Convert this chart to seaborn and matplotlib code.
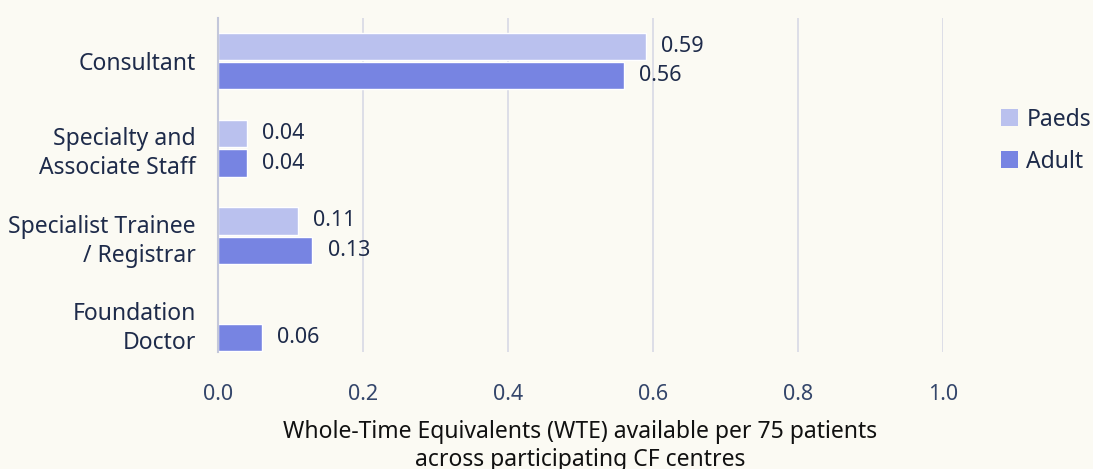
import matplotlib
matplotlib.use("Agg")
import matplotlib.pyplot as plt
import seaborn as sns
import pandas as pd
import numpy as np
from matplotlib.patches import Patch

roles = ["Consultant", "Specialty and\nAssociate Staff", "Specialist Trainee\n/ Registrar", "Foundation\nDoctor"]
paeds = [0.59, 0.04, 0.11, np.nan]
adult = [0.56, 0.04, 0.13, 0.06]
groups = ["Paeds", "Adult"]
colors = ["#BAC1EE", "#7784E2"]

BG = "#FBFAF3"
NAVY = "#1E2B4A"
TICK = "#34466B"
GRID = "#DADCE6"

df = pd.DataFrame({
    "role": roles * 2,
    "group": [groups[0]] * len(roles) + [groups[1]] * len(roles),
    "wte": paeds + adult,
})

sns.set_theme(style="white")
plt.rcParams["font.family"] = ["Noto Sans", "DejaVu Sans"]

fig = plt.figure(figsize=(10.93, 4.69), dpi=100, facecolor=BG)
ax = fig.add_axes([0.1995, 0.2495, 0.6633, 0.7121])
ax.set_facecolor(BG)

sns.barplot(data=df, y="role", x="wte", hue="group", hue_order=groups,
            palette=colors, orient="h", width=0.674, gap=0.08,
            order=roles, ax=ax, legend=False, saturation=1, errorbar=None)

ax.set_xlim(0, 1.0)
ax.set_ylim(3.33, -0.49)
ax.set_xticks([0, 0.2, 0.4, 0.6, 0.8, 1.0])
ax.set_xticklabels(["0.0", "0.2", "0.4", "0.6", "0.8", "1.0"])
ax.grid(axis="x", color=GRID, linewidth=1.3)
ax.set_axisbelow(True)
for s in ["top", "right", "bottom"]:
    ax.spines[s].set_visible(False)
ax.spines["left"].set_color("#C3C7DA")
ax.spines["left"].set_linewidth(1.5)

ax.tick_params(axis="x", length=0, pad=23, labelsize=15.5, labelcolor=TICK)
ax.tick_params(axis="y", length=0, pad=16, labelsize=16.5, labelcolor=NAVY)
for lbl in ax.get_yticklabels():
    lbl.set_multialignment("right")
    lbl.set_linespacing(1.27)

ax.set_ylabel("")
ax.set_xlabel("Whole-Time Equivalents (WTE) available per 75 patients\nacross participating CF centres",
              fontsize=16.5, color="#111111", labelpad=11, linespacing=1.23)

for cont in ax.containers:
    for bar in cont:
        w = bar.get_width()
        if np.isnan(w) or w == 0:
            continue
        ax.text(w + 0.021, bar.get_y() + bar.get_height() / 2, f"{w:.2f}",
                va="center", ha="left", fontsize=15.5, color=NAVY)

handles = [Patch(facecolor=c, edgecolor="none", label=g) for g, c in zip(groups, colors)]
fig.legend(handles=handles, loc="center left", bbox_to_anchor=(0.897, 0.70),
           frameon=False, fontsize=16.5, labelcolor=NAVY, handlelength=0.75,
           handleheight=0.75, handletextpad=0.35, labelspacing=0.8)

fig.savefig("out.png", dpi=100, facecolor=BG)
